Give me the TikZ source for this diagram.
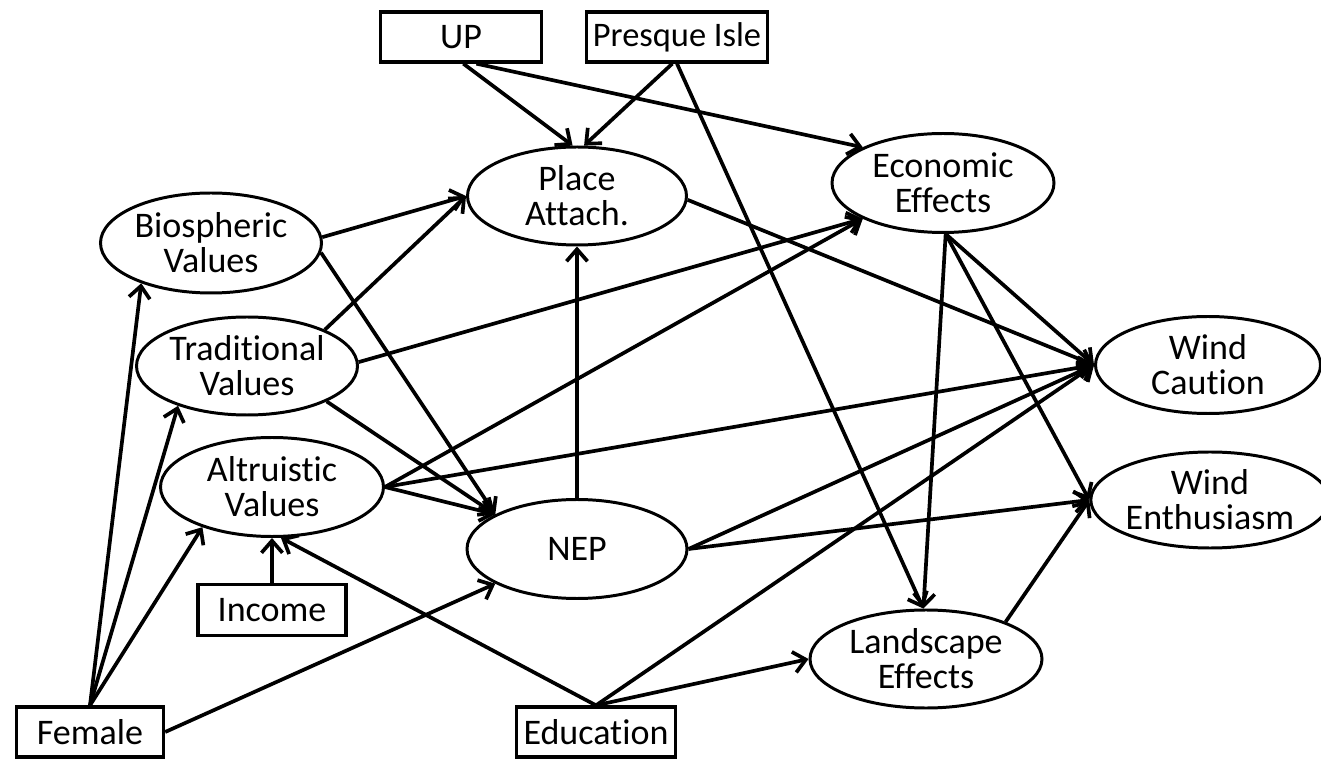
\documentclass[tikz,border=0pt]{standalone}
\usepackage{fontspec}
\setmainfont{Carlito}[Ligatures=NoCommon]
\usetikzlibrary{shapes.geometric,arrows.meta}
\begin{document}
\begin{tikzpicture}[x=0.02cm,y=-0.02cm,
  every node/.style={font=\fontsize{20.5pt}{19.8pt}\selectfont, align=center, inner sep=0pt},
  ell/.style n args={2}{draw, line width=1.7pt, ellipse, minimum width=#1*0.02cm, minimum height=#2*0.02cm},
  obs/.style n args={2}{draw, line width=1.9pt, rectangle, minimum width=#1*0.02cm, minimum height=#2*0.02cm},
  path/.style={line width=2.1pt, -{Straight Barb[length=0.24cm,width=0.42cm,line width=2.1pt]}}
]
\fill[white] (0,0) rectangle (1321,759);
\useasboundingbox (0,0) rectangle (1321,759);

% observed indicators
\node[obs={161}{50}] (up)  at (461,37)  {UP};
\node[obs={181}{50}, font=\fontsize{19.6pt}{19.8pt}\selectfont] (pi) at (677,37) {Presque Isle};
\node[obs={148}{51}] (inc) at (272,610) {Income};
\node[obs={147}{50}] (fem) at (90,732)  {Female};
\node[obs={159}{50}] (edu) at (596,732) {Education};

% latent constructs
\node[ell={219}{98}]  (pla) at (577,196)  {Place\\Attach.};
\node[ell={222}{99}]  (eco) at (943,183)  {Economic\\Effects};
\node[ell={221}{100}] (bio) at (211,243)  {Biospheric\\Values};
\node[ell={221}{98}]  (tra) at (247,366)  {Traditional\\Values};
\node[ell={223}{99}]  (alt) at (272,487)  {Altruistic\\Values};
\node[ell={220}{99}]  (nep) at (577,549)  {NEP};
\node[ell={225}{97}]  (cau) at (1208,365) {Wind\\Caution};
\node[ell={222}{96}]  (ent) at (1210,500) {Wind\\Enthusiasm};
\node[ell={232}{98}]  (lan) at (926,659)  {Landscape\\Effects};

% structural paths
\draw[path] (up.-85) -- (pla.95);
\draw[path] (up.-60) -- (eco.156);
\draw[path] (pi.-100) -- (pla.82);
\draw[path] (pi.south) -- (lan.93);

\draw[path] (bio.3) -- (pla.west);
\draw[path] (bio.-5) -- (nep.157);
\draw[path] (tra.25) -- (pla.west);
\draw[path] (tra.2) -- (eco.-156);
\draw[path] (tra.-24) -- (nep.157);
\draw[path] (alt.east) -- (eco.-156);
\draw[path] (alt.east) -- (cau.west);
\draw[path] (alt.east) -- (nep.157);

\draw[path] (pla.-2) -- (cau.west);
\draw[path] (nep.north) -- (pla.south);
\draw[path] (nep.east) -- (cau.west);
\draw[path] (nep.east) -- (ent.west);

\draw[path] (eco.-87) -- (cau.west);
\draw[path] (eco.-87) -- (ent.west);
\draw[path] (eco.-87) -- (lan.93);
\draw[path] (lan.25) -- (ent.west);

\draw[path] (edu.north) -- (alt.-80);
\draw[path] (edu.north) -- (cau.west);
\draw[path] (edu.north) -- (lan.west);

\draw[path] (fem.north) -- (bio.-150);
\draw[path] (fem.north) -- (tra.-150);
\draw[path] (fem.north) -- (alt.-150);
\draw[path] (fem.east) -- (nep.-157);
\draw[path] (inc.north) -- (alt.south);
\end{tikzpicture}
\end{document}
